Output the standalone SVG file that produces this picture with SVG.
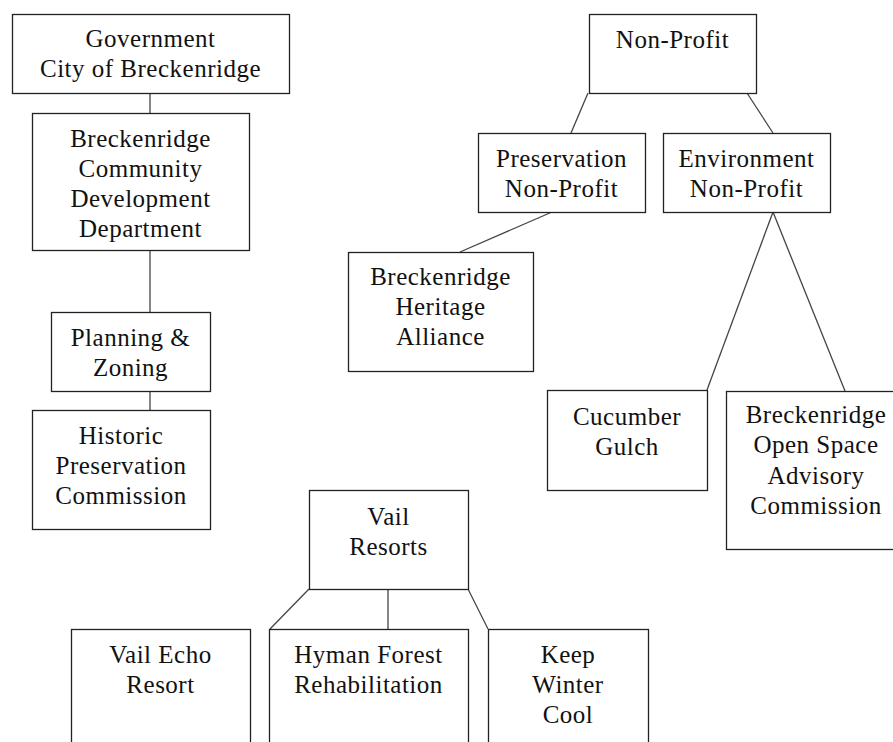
<svg xmlns="http://www.w3.org/2000/svg" width="893" height="742" viewBox="0 0 893 742">
<style>
rect{fill:#fff;stroke:#222;stroke-width:1.3}
text{font-family:"Liberation Serif","Times New Roman",serif;font-size:25px;fill:#111;text-anchor:middle;letter-spacing:0.5px}
#connectors line{stroke:#444;stroke-width:1.3}
</style>
<rect x="0" y="0" width="893" height="742" style="stroke:none"/>
<g id="connectors">
<line x1="150" y1="93" x2="150" y2="113"/>
<line x1="150" y1="250" x2="150" y2="312"/>
<line x1="150" y1="391" x2="150" y2="410"/>
<line x1="588" y1="93" x2="571" y2="133"/>
<line x1="747" y1="93" x2="773" y2="133"/>
<line x1="552" y1="212" x2="460" y2="252"/>
<line x1="773" y1="212" x2="707" y2="390"/>
<line x1="773" y1="212" x2="845" y2="391"/>
<line x1="309" y1="589" x2="270" y2="629"/>
<line x1="388" y1="589" x2="388" y2="629"/>
<line x1="468" y1="589" x2="488" y2="629"/>
</g>
<g id="gov"><rect x="12.5" y="14.5" width="277" height="79"/><text x="150.5" y="47">Government</text><text x="150.5" y="77">City of Breckenridge</text></g>
<g id="cdd"><rect x="32.5" y="113.5" width="217" height="137"/><text x="140.5" y="147">Breckenridge</text><text x="140.5" y="177">Community</text><text x="140.5" y="207">Development</text><text x="140.5" y="237">Department</text></g>
<g id="planning"><rect x="51.5" y="312.5" width="159" height="79"/><text x="130.5" y="346">Planning &amp;</text><text x="130.5" y="376">Zoning</text></g>
<g id="historic"><rect x="32.5" y="410.5" width="178" height="119"/><text x="121" y="444">Historic</text><text x="121" y="474">Preservation</text><text x="121" y="504">Commission</text></g>
<g id="nonprofit"><rect x="589.5" y="14.5" width="167" height="79"/><text x="672.5" y="48">Non-Profit</text></g>
<g id="preservation"><rect x="478.5" y="133.5" width="167" height="79"/><text x="561.5" y="167">Preservation</text><text x="561.5" y="197">Non-Profit</text></g>
<g id="environment"><rect x="663.5" y="133.5" width="167" height="79"/><text x="746.5" y="167">Environment</text><text x="746.5" y="197">Non-Profit</text></g>
<g id="heritage"><rect x="348.5" y="252.5" width="185" height="119"/><text x="440.5" y="285">Breckenridge</text><text x="440.5" y="315">Heritage</text><text x="440.5" y="345">Alliance</text></g>
<g id="cucumber"><rect x="547.5" y="390.5" width="160" height="100"/><text x="627" y="425">Cucumber</text><text x="627" y="455">Gulch</text></g>
<g id="openspace"><rect x="726.5" y="391.5" width="180" height="158"/><text x="816" y="423">Breckenridge</text><text x="816" y="453">Open Space</text><text x="816" y="484">Advisory</text><text x="816" y="514">Commission</text></g>
<g id="vail"><rect x="309.5" y="490.5" width="159" height="99"/><text x="388.5" y="525">Vail</text><text x="388.5" y="555">Resorts</text></g>
<g id="echo"><rect x="71.5" y="629.5" width="179" height="130"/><text x="160.5" y="663">Vail Echo</text><text x="160.5" y="693">Resort</text></g>
<g id="hyman"><rect x="269.5" y="629.5" width="199" height="130"/><text x="368.5" y="663">Hyman Forest</text><text x="368.5" y="693">Rehabilitation</text></g>
<g id="keep"><rect x="488.5" y="629.5" width="160" height="130"/><text x="568" y="663">Keep</text><text x="568" y="693">Winter</text><text x="568" y="723">Cool</text></g>
</svg>
